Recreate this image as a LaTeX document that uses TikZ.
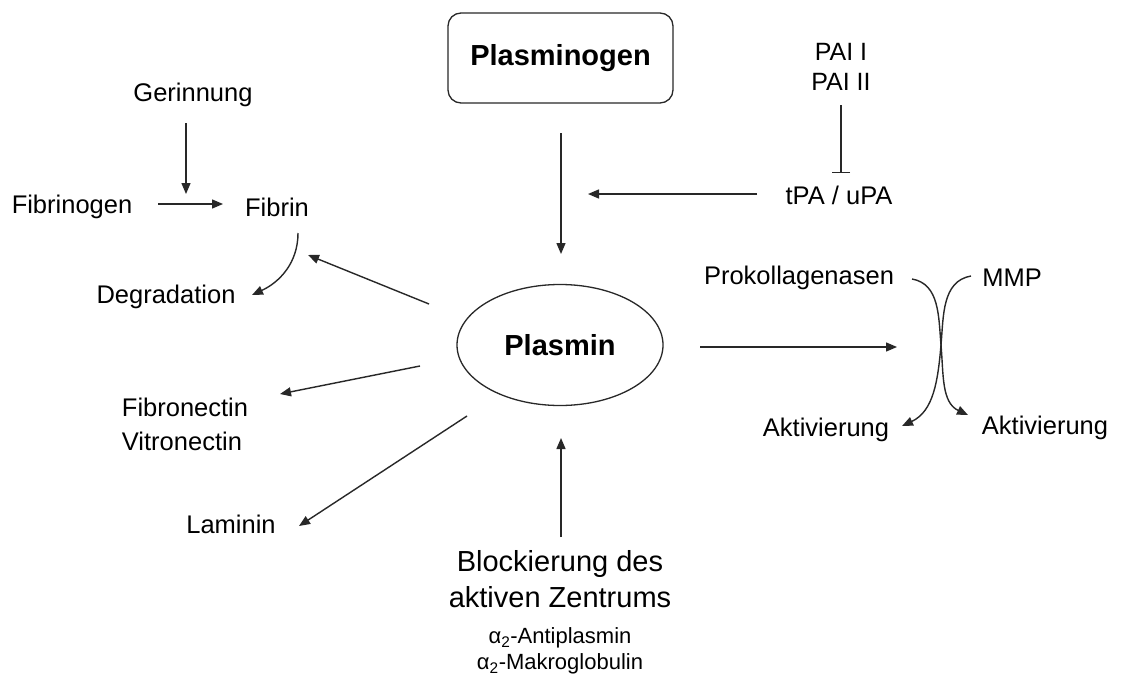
\documentclass[tikz,border=0pt]{standalone}
\usepackage{fontspec}
\setmainfont{Liberation Sans}
\usetikzlibrary{arrows.meta,shapes.geometric}
\definecolor{ln}{RGB}{40,40,40}
\tikzset{
  lbl/.style={inner sep=0pt, font=\fontsize{25.5}{30}\selectfont},
  boldlbl/.style={inner sep=0pt, font=\fontsize{29}{34}\selectfont\bfseries},
  biglbl/.style={inner sep=0pt, font=\fontsize{29}{36}\selectfont},
  smalllbl/.style={inner sep=0pt, font=\fontsize{22}{26}\selectfont},
  conn/.style={draw=ln, line width=1.4pt, -{Triangle[length=11pt,width=9pt]}},
  inhib/.style={draw=ln, line width=1.4pt, -{Bar[width=18pt,line width=1.4pt]}},
  shapeline/.style={draw=ln, line width=1.3pt}
}
\begin{document}
\begin{tikzpicture}[x=1pt,y=-1pt]
\useasboundingbox[fill=white] (0,0) rectangle (1121,680);

% nodes
\node[lbl] (ger) at (193,95) {Gerinnung};
\node[lbl] (fbg) at (72,207) {Fibrinogen};
\node[lbl] (fib) at (277,207) {Fibrin};
\node[lbl] (deg) at (166,297) {Degradation};
\node[boldlbl, shapeline, rounded corners=13pt, minimum width=225pt, minimum height=90pt] (plg) at (560.5,58) {Plasminogen};
\node[lbl, align=center, font=\fontsize{25}{30}\selectfont] (pai) at (841,67) {PAI I\\PAI II};
\node[lbl] (tpa) at (839,195) {tPA / uPA};
\node[boldlbl, shapeline, ellipse, minimum width=206pt, minimum height=121pt] (pl) at (560,345) {Plasmin};
\node[lbl, align=left, font=\fontsize{25.5}{34}\selectfont] (fn) at (185,424) {Fibronectin\\Vitronectin};
\node[lbl] (lam) at (231,524) {Laminin};
\node[lbl] (prok) at (799,278) {Prokollagenasen};
\node[lbl] (mmp) at (1012,278) {MMP};
\node[lbl] (akl) at (826,430) {Aktivierung};
\node[lbl] (akr) at (1045,428) {Aktivierung};
\node[biglbl, align=center] (blk) at (560,579) {Blockierung des\\aktiven Zentrums};
\node[smalllbl, align=center] (alpha) at (560,651) {α\textsubscript{2}-Antiplasmin\\α\textsubscript{2}-Makroglobulin};

% connector end points
\coordinate (g1) at (186,123); \coordinate (g2) at (186,194);
\coordinate (f1) at (158,204); \coordinate (f2) at (223,204);
\coordinate (d1) at (298,233); \coordinate (d2) at (252,295);
\coordinate (p1) at (561,133); \coordinate (p2) at (561,254);
\coordinate (t1) at (757,194); \coordinate (t2) at (588,194);
\coordinate (i1) at (841,105); \coordinate (i2) at (841,173);
\coordinate (a1) at (429,304); \coordinate (a2) at (308,255);
\coordinate (b1) at (420,366); \coordinate (b2) at (280,394);
\coordinate (c1) at (467,416); \coordinate (c2) at (299,526);
\coordinate (u1) at (561,537); \coordinate (u2) at (561,438);
\coordinate (r1) at (700,347); \coordinate (r2) at (897,347);
\coordinate (k1) at (912,279); \coordinate (kx) at (941,345); \coordinate (k2) at (968,415);
\coordinate (m1) at (971,276); \coordinate (m2) at (902,426);

% connectors
\draw[conn] (g1) -- (g2);
\draw[conn] (f1) -- (f2);
\draw[conn] (d1) to[out=-90,in=25] (d2);
\draw[conn] (p1) -- (p2);
\draw[conn] (t1) -- (t2);
\draw[inhib] (i1) -- (i2);
\draw[conn] (a1) -- (a2);
\draw[conn] (b1) -- (b2);
\draw[conn] (c1) -- (c2);
\draw[conn] (u1) -- (u2);
\draw[conn] (r1) -- (r2);
\draw[conn] (k1) to[out=-10,in=95] (kx) to[out=-85,in=155] (k2);
\draw[conn] (m1) to[out=190,in=85] (kx) to[out=-95,in=25] (m2);
\end{tikzpicture}
\end{document}
